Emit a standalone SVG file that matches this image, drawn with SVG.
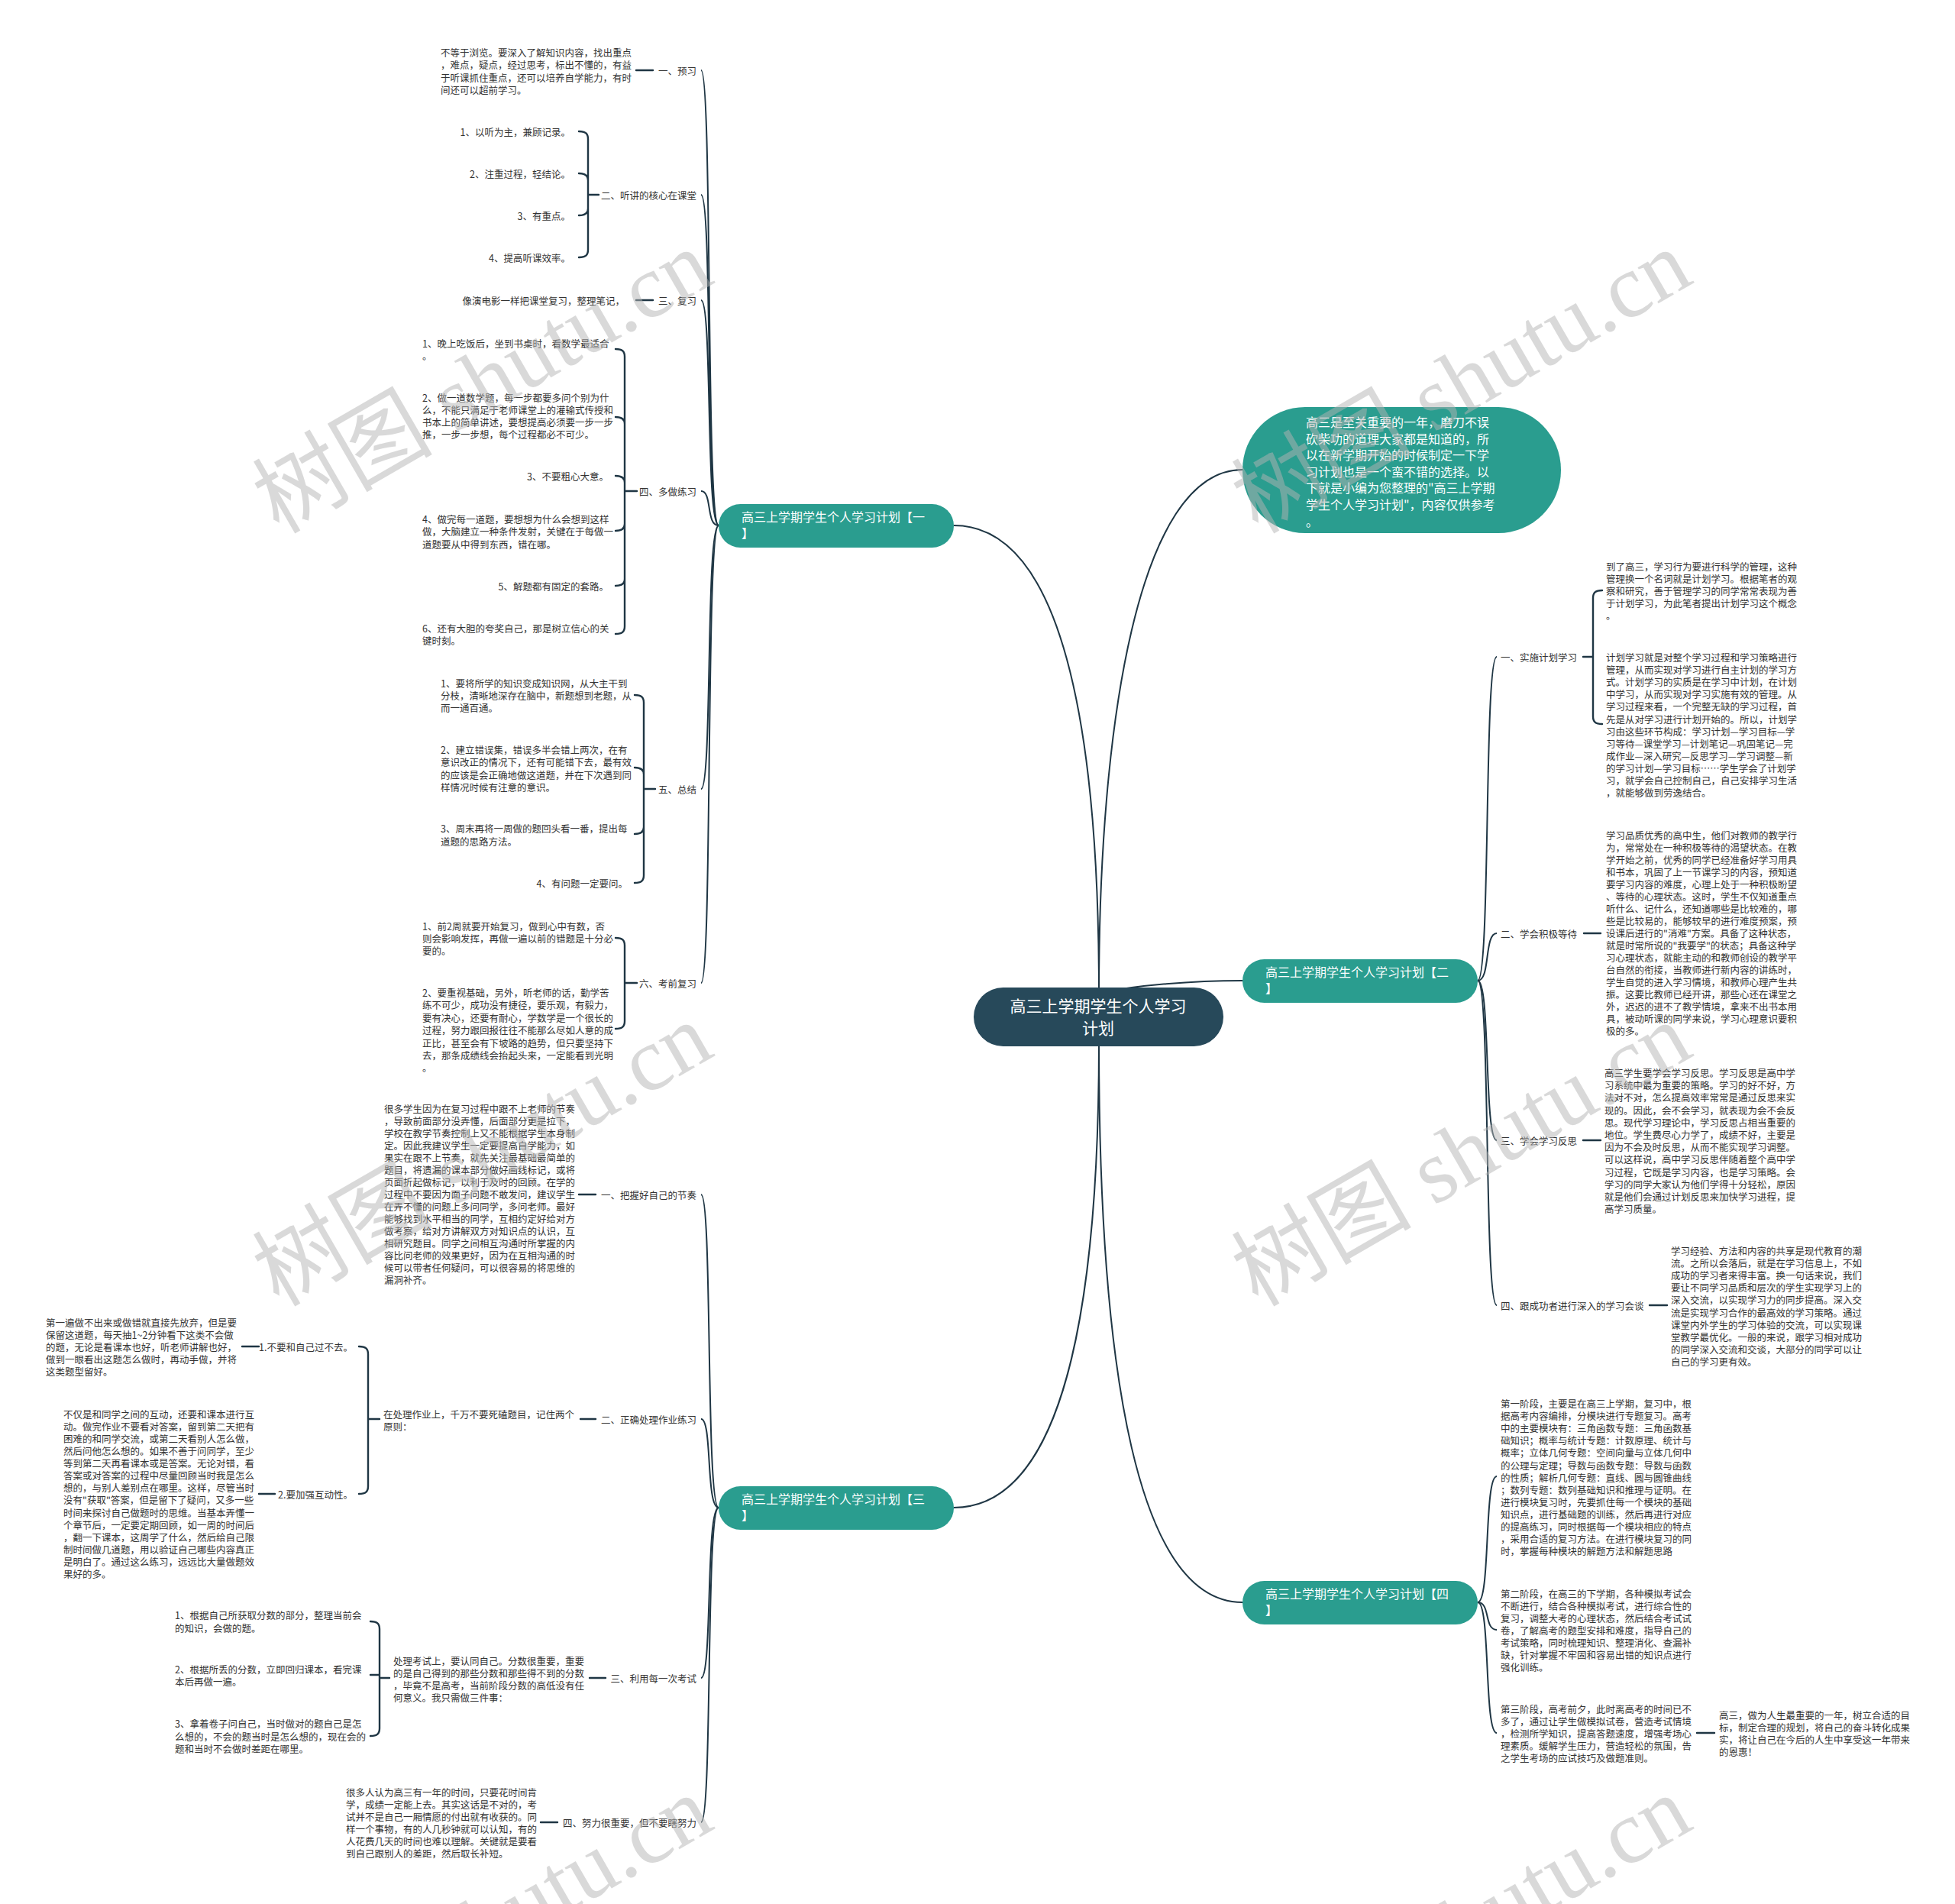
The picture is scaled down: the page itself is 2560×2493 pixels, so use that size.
<svg xmlns="http://www.w3.org/2000/svg" width="2560" height="2493" viewBox="0 0 2560 2493">
<style>
.t{font-family:"Noto Sans CJK SC","Noto Sans",sans-serif;font-size:12.5px;fill:#333;dominant-baseline:central}
.e{text-anchor:end}
.bt{font-family:"Noto Sans CJK SC","Noto Sans",sans-serif;font-size:16px;fill:#fff;dominant-baseline:central}
.ct{font-size:21px;text-anchor:middle}
.ln{fill:none;stroke:#1f3644;stroke-width:2}
.bk{fill:none;stroke:#1f3644;stroke-width:2.4;stroke-linecap:round}
.br{fill:#2a9d8f}
.wm{font-family:"Liberation Serif","Noto Sans CJK SC",serif;font-size:118px;fill:#b4b4b4;fill-opacity:0.5}
</style>
<rect width="2560" height="2493" fill="#fff"/>
<g id="connectors">
<path class="ln" d="M 1439 1300 C 1439 950 1390 688 1249 688"/>
<path class="ln" d="M 1439 1300 C 1439 950 1490 615 1627 615"/>
<path class="ln" d="M 1439 1300 C 1490 1290 1560 1284 1627 1284"/>
<path class="ln" d="M 1439 1365 C 1439 1720 1390 1974 1249 1974"/>
<path class="ln" d="M 1439 1365 C 1439 1800 1490 2098 1627 2098"/>
<path class="ln" d="M 941 688 C 924 688 933 92 918 92"/>
<path class="ln" d="M 941 688 C 924 688 933 255 918 255"/>
<path class="ln" d="M 941 688 C 924 688 933 393 918 393"/>
<path class="ln" d="M 941 688 C 924 688 933 643 918 643"/>
<path class="ln" d="M 941 688 C 924 688 933 1033 918 1033"/>
<path class="ln" d="M 941 688 C 924 688 933 1287 918 1287"/>
<path class="ln" d="M 1935 1284 C 1952 1284 1943 860 1960 860"/>
<path class="ln" d="M 1935 1284 C 1952 1284 1943 1222 1960 1222"/>
<path class="ln" d="M 1935 1284 C 1952 1284 1943 1493 1960 1493"/>
<path class="ln" d="M 1935 1284 C 1952 1284 1943 1709 1960 1709"/>
<path class="ln" d="M 941 1974 C 924 1974 933 1564 918 1564"/>
<path class="ln" d="M 941 1974 C 924 1974 933 1858 918 1858"/>
<path class="ln" d="M 941 1974 C 924 1974 933 2197 918 2197"/>
<path class="ln" d="M 941 1974 C 924 1974 933 2386 918 2386"/>
<path class="ln" d="M 1935 2098 C 1952 2098 1943 1933 1960 1933"/>
<path class="ln" d="M 1935 2098 C 1952 2098 1943 2134 1960 2134"/>
<path class="ln" d="M 1935 2098 C 1952 2098 1943 2269 1960 2269"/>
<path class="bk" d="M 758 172 C 767 172 770 175 770 182 L 770 327 C 770 334 767 337 758 337 M 758 227 C 766 227 770 230 770 236 M 758 282 C 766 282 770 279 770 273 M 770 255 L 784 255"/>
<path class="bk" d="M 806 457 C 815 457 818 460 818 467 L 818 820 C 818 827 815 830 806 830 M 806 546 C 814 546 818 549 818 555 M 806 623 C 814 623 818 626 818 632 M 806 695 C 814 695 818 692 818 686 M 806 767 C 814 767 818 764 818 758 M 818 643 L 834 643"/>
<path class="bk" d="M 831 910 C 840 910 843 913 843 920 L 843 1146 C 843 1153 840 1156 831 1156 M 831 1005 C 839 1005 843 1008 843 1014 M 831 1092 C 839 1092 843 1089 843 1083 M 843 1033 L 858 1033"/>
<path class="bk" d="M 806 1228 C 815 1228 818 1231 818 1238 L 818 1337 C 818 1344 815 1347 806 1347 M 818 1287 L 834 1287"/>
<path class="bk" d="M 470 1763 C 479 1763 482 1766 482 1773 L 482 1946 C 482 1953 479 1956 470 1956 M 482 1858 L 497 1858"/>
<path class="bk" d="M 485 2123 C 494 2123 497 2126 497 2133 L 497 2263 C 497 2270 494 2273 485 2273 M 485 2193 L 497 2193 M 497 2197 L 510 2197"/>
<path class="bk" d="M 2098 773 C 2089 773 2086 776 2086 783 L 2086 938 C 2086 945 2089 948 2098 948 M 2073 860 L 2086 860"/>
<path class="bk" d="M 833 92 L 855 92 M 833 393 L 855 393 M 758 1564 L 780 1564 M 760 1858 L 780 1858 M 772 2197 L 793 2197 M 708 2386 L 730 2386 M 317 1763 L 339 1763 M 339 1956 L 360 1956 M 2074 1222 L 2096 1222 M 2073 1493 L 2096 1493 M 2160 1709 L 2183 1709 M 2222 2269 L 2245 2269"/>
</g>
<g id="center">
<rect x="1275" y="1293" width="327" height="77" rx="38.5" fill="#27495a"/>
<text class="bt ct" x="1438" y="1316">高三上学期学生个人学习</text>
<text class="bt ct" x="1438" y="1345">计划</text>
</g>
<g id="intro">
<rect x="1627" y="533" width="417" height="165" rx="82" class="br"/>
<text class="bt" x="1710" y="552"><tspan x="1710">高三是至关重要的一年，磨刀不误</tspan><tspan x="1710" dy="21.6">砍柴功的道理大家都是知道的，所</tspan><tspan x="1710" dy="21.6">以在新学期开始的时候制定一下学</tspan><tspan x="1710" dy="21.6">习计划也是一个蛮不错的选择。以</tspan><tspan x="1710" dy="21.6">下就是小编为您整理的"高三上学期</tspan><tspan x="1710" dy="21.6">学生个人学习计划"，内容仅供参考</tspan><tspan x="1710" dy="21.6">。</tspan></text>
</g>
<g id="branch1">
<rect x="941" y="660" width="308" height="57" rx="28.5" class="br"/>
<text class="bt" x="971" y="676"><tspan x="971">高三上学期学生个人学习计划【一</tspan><tspan x="971" dy="21">】</tspan></text>
</g>
<g id="branch2">
<rect x="1627" y="1256" width="308" height="57" rx="28.5" class="br"/>
<text class="bt" x="1657" y="1272"><tspan x="1657">高三上学期学生个人学习计划【二</tspan><tspan x="1657" dy="21">】</tspan></text>
</g>
<g id="branch3">
<rect x="941" y="1946" width="308" height="57" rx="28.5" class="br"/>
<text class="bt" x="971" y="1962"><tspan x="971">高三上学期学生个人学习计划【三</tspan><tspan x="971" dy="21">】</tspan></text>
</g>
<g id="branch4">
<rect x="1627" y="2070" width="308" height="57" rx="28.5" class="br"/>
<text class="bt" x="1657" y="2086"><tspan x="1657">高三上学期学生个人学习计划【四</tspan><tspan x="1657" dy="21">】</tspan></text>
</g>
<g id="b1-labels">
<text class="t e" x="912" y="92">一、预习</text>
<text class="t e" x="912" y="255">二、听讲的核心在课堂</text>
<text class="t e" x="912" y="393">三、复习</text>
<text class="t e" x="912" y="643">四、多做练习</text>
<text class="t e" x="912" y="1033">五、总结</text>
<text class="t e" x="912" y="1287">六、考前复习</text>
</g>
<g id="b1-yuxi">
<text class="t" x="577" y="68"><tspan x="577">不等于浏览。要深入了解知识内容，找出重点</tspan><tspan x="577" dy="16.3">，难点，疑点，经过思考，标出不懂的，有益</tspan><tspan x="577" dy="16.3">于听课抓住重点，还可以培养自学能力，有时</tspan><tspan x="577" dy="16.3">间还可以超前学习。</tspan></text>
</g>
<g id="b1-tingjiang">
<text class="t e" x="747" y="172">1、以听为主，兼顾记录。</text>
<text class="t e" x="747" y="227">2、注重过程，轻结论。</text>
<text class="t e" x="747" y="282">3、有重点。</text>
<text class="t e" x="747" y="337">4、提高听课效率。</text>
</g>
<g id="b1-fuxi">
<text class="t e" x="818" y="393">像演电影一样把课堂复习，整理笔记，</text>
</g>
<g id="b1-lianxi">
<text class="t" x="553" y="449"><tspan x="553">1、晚上吃饭后，坐到书桌时，看数学最适合</tspan><tspan x="553" dy="16">。</tspan></text>
<text class="t" x="553" y="520"><tspan x="553">2、做一道数学题，每一步都要多问个别为什</tspan><tspan x="553" dy="16">么，不能只满足于老师课堂上的灌输式传授和</tspan><tspan x="553" dy="16">书本上的简单讲述，要想提高必须要一步一步</tspan><tspan x="553" dy="16">推，一步一步想，每个过程都必不可少。</tspan></text>
<text class="t e" x="797" y="623">3、不要粗心大意。</text>
<text class="t" x="553" y="679"><tspan x="553">4、做完每一道题，要想想为什么会想到这样</tspan><tspan x="553" dy="16.3">做，大脑建立一种条件发射，关键在于每做一</tspan><tspan x="553" dy="16.3">道题要从中得到东西，错在哪。</tspan></text>
<text class="t e" x="797" y="767">5、解题都有固定的套路。</text>
<text class="t" x="553" y="822"><tspan x="553">6、还有大胆的夸奖自己，那是树立信心的关</tspan><tspan x="553" dy="16">键时刻。</tspan></text>
</g>
<g id="b1-zongjie">
<text class="t" x="577" y="894"><tspan x="577">1、要将所学的知识变成知识网，从大主干到</tspan><tspan x="577" dy="16">分枝，清晰地深存在脑中，新题想到老题，从</tspan><tspan x="577" dy="16">而一通百通。</tspan></text>
<text class="t" x="577" y="981"><tspan x="577">2、建立错误集，错误多半会错上两次，在有</tspan><tspan x="577" dy="16.3">意识改正的情况下，还有可能错下去，最有效</tspan><tspan x="577" dy="16.3">的应该是会正确地做这道题，并在下次遇到同</tspan><tspan x="577" dy="16.3">样情况时候有注意的意识。</tspan></text>
<text class="t" x="577" y="1084"><tspan x="577">3、周末再将一周做的题回头看一番，提出每</tspan><tspan x="577" dy="16.5">道题的思路方法。</tspan></text>
<text class="t e" x="822" y="1156">4、有问题一定要问。</text>
</g>
<g id="b1-kaoqian">
<text class="t" x="553" y="1212"><tspan x="553">1、前2周就要开始复习，做到心中有数，否</tspan><tspan x="553" dy="16">则会影响发挥，再做一遍以前的错题是十分必</tspan><tspan x="553" dy="16">要的。</tspan></text>
<text class="t" x="553" y="1299"><tspan x="553">2、要重视基础，另外，听老师的话，勤学苦</tspan><tspan x="553" dy="16.4">练不可少，成功没有捷径，要乐观，有毅力，</tspan><tspan x="553" dy="16.4">要有决心，还要有耐心，学数学是一个很长的</tspan><tspan x="553" dy="16.4">过程，努力跟回报往往不能那么尽如人意的成</tspan><tspan x="553" dy="16.4">正比，甚至会有下坡路的趋势，但只要坚持下</tspan><tspan x="553" dy="16.4">去，那条成绩线会抬起头来，一定能看到光明</tspan><tspan x="553" dy="16.4">。</tspan></text>
</g>
<g id="b3-labels">
<text class="t e" x="912" y="1564">一、把握好自己的节奏</text>
<text class="t e" x="912" y="1858">二、正确处理作业练习</text>
<text class="t e" x="912" y="2197">三、利用每一次考试</text>
<text class="t e" x="912" y="2386">四、努力很重要，但不要瞎努力</text>
</g>
<g id="b3-jiezou">
<text class="t" x="503" y="1451"><tspan x="503">很多学生因为在复习过程中跟不上老师的节奏</tspan><tspan x="503" dy="16">，导致前面部分没弄懂，后面部分更是拉下，</tspan><tspan x="503" dy="16">学校在教学节奏控制上又不能根据学生本身制</tspan><tspan x="503" dy="16">定。因此我建议学生一定要提高自学能力，如</tspan><tspan x="503" dy="16">果实在跟不上节奏，就先关注最基础最简单的</tspan><tspan x="503" dy="16">题目，将遗漏的课本部分做好画线标记，或将</tspan><tspan x="503" dy="16">页面折起做标记，以利于及时的回顾。在学的</tspan><tspan x="503" dy="16">过程中不要因为面子问题不敢发问，建议学生</tspan><tspan x="503" dy="16">在弄不懂的问题上多问同学，多问老师。最好</tspan><tspan x="503" dy="16">能够找到水平相当的同学，互相约定好给对方</tspan><tspan x="503" dy="16">做考察，给对方讲解双方对知识点的认识，互</tspan><tspan x="503" dy="16">相研究题目。同学之间相互沟通时所掌握的内</tspan><tspan x="503" dy="16">容比问老师的效果更好，因为在互相沟通的时</tspan><tspan x="503" dy="16">候可以带者任何疑问，可以很容易的将思维的</tspan><tspan x="503" dy="16">漏洞补齐。</tspan></text>
</g>
<g id="b3-zuoye">
<text class="t" x="502" y="1851"><tspan x="502">在处理作业上，千万不要死磕题目，记住两个</tspan><tspan x="502" dy="16">原则：</tspan></text>
<text class="t e" x="462" y="1763">1.不要和自己过不去。</text>
<text class="t e" x="462" y="1956">2.要加强互动性。</text>
<text class="t" x="60" y="1731"><tspan x="60">第一遍做不出来或做错就直接先放弃，但是要</tspan><tspan x="60" dy="16">保留这道题，每天抽1~2分钟看下这类不会做</tspan><tspan x="60" dy="16">的题，无论是看课本也好，听老师讲解也好，</tspan><tspan x="60" dy="16">做到一眼看出这题怎么做时，再动手做，并将</tspan><tspan x="60" dy="16">这类题型留好。</tspan></text>
<text class="t" x="83" y="1851"><tspan x="83">不仅是和同学之间的互动，还要和课本进行互</tspan><tspan x="83" dy="16.07">动。做完作业不要看对答案，留到第二天把有</tspan><tspan x="83" dy="16.07">困难的和同学交流，或第二天看别人怎么做，</tspan><tspan x="83" dy="16.07">然后问他怎么想的。如果不善于问同学，至少</tspan><tspan x="83" dy="16.07">等到第二天再看课本或是答案。无论对错，看</tspan><tspan x="83" dy="16.07">答案或对答案的过程中尽量回顾当时我是怎么</tspan><tspan x="83" dy="16.07">想的，与别人差别点在哪里。这样，尽管当时</tspan><tspan x="83" dy="16.07">没有"获取"答案，但是留下了疑问，又多一些</tspan><tspan x="83" dy="16.07">时间来探讨自己做题时的思维。当基本弄懂一</tspan><tspan x="83" dy="16.07">个章节后，一定要定期回顾，如一周的时间后</tspan><tspan x="83" dy="16.07">，翻一下课本，这周学了什么，然后给自己限</tspan><tspan x="83" dy="16.07">制时间做几道题，用以验证自己哪些内容真正</tspan><tspan x="83" dy="16.07">是明白了。通过这么练习，远远比大量做题效</tspan><tspan x="83" dy="16.07">果好的多。</tspan></text>
</g>
<g id="b3-kaoshi">
<text class="t" x="515" y="2174"><tspan x="515">处理考试上，要认同自己。分数很重要，重要</tspan><tspan x="515" dy="16">的是自己得到的那些分数和那些得不到的分数</tspan><tspan x="515" dy="16">，毕竟不是高考，当前阶段分数的高低没有任</tspan><tspan x="515" dy="16">何意义。我只需做三件事：</tspan></text>
<text class="t" x="229" y="2114"><tspan x="229">1、根据自己所获取分数的部分，整理当前会</tspan><tspan x="229" dy="16.5">的知识，会做的题。</tspan></text>
<text class="t" x="229" y="2185"><tspan x="229">2、根据所丢的分数，立即回归课本，看完课</tspan><tspan x="229" dy="16">本后再做一遍。</tspan></text>
<text class="t" x="229" y="2256"><tspan x="229">3、拿着卷子问自己，当时做对的题自己是怎</tspan><tspan x="229" dy="16.5">么想的，不会的题当时是怎么想的，现在会的</tspan><tspan x="229" dy="16.5">题和当时不会做时差距在哪里。</tspan></text>
</g>
<g id="b3-nuli">
<text class="t" x="453" y="2346"><tspan x="453">很多人认为高三有一年的时间，只要花时间肯</tspan><tspan x="453" dy="16">学，成绩一定能上去。其实这话是不对的，考</tspan><tspan x="453" dy="16">试并不是自己一厢情愿的付出就有收获的。同</tspan><tspan x="453" dy="16">样一个事物，有的人几秒钟就可以认知，有的</tspan><tspan x="453" dy="16">人花费几天的时间也难以理解。关键就是要看</tspan><tspan x="453" dy="16">到自己跟别人的差距，然后取长补短。</tspan></text>
</g>
<g id="b2-labels">
<text class="t" x="1965" y="860">一、实施计划学习</text>
<text class="t" x="1965" y="1222">二、学会积极等待</text>
<text class="t" x="1965" y="1493">三、学会学习反思</text>
<text class="t" x="1965" y="1709">四、跟成功者进行深入的学习会谈</text>
</g>
<g id="b2-jihua">
<text class="t" x="2103" y="741"><tspan x="2103">到了高三，学习行为要进行科学的管理，这种</tspan><tspan x="2103" dy="16">管理换一个名词就是计划学习。根据笔者的观</tspan><tspan x="2103" dy="16">察和研究，善于管理学习的同学常常表现为善</tspan><tspan x="2103" dy="16">于计划学习，为此笔者提出计划学习这个概念</tspan><tspan x="2103" dy="16">。</tspan></text>
<text class="t" x="2103" y="860"><tspan x="2103">计划学习就是对整个学习过程和学习策略进行</tspan><tspan x="2103" dy="16.1">管理，从而实现对学习进行自主计划的学习方</tspan><tspan x="2103" dy="16.1">式。计划学习的实质是在学习中计划，在计划</tspan><tspan x="2103" dy="16.1">中学习，从而实现对学习实施有效的管理。从</tspan><tspan x="2103" dy="16.1">学习过程来看，一个完整无缺的学习过程，首</tspan><tspan x="2103" dy="16.1">先是从对学习进行计划开始的。所以，计划学</tspan><tspan x="2103" dy="16.1">习由这些环节构成：学习计划—学习目标—学</tspan><tspan x="2103" dy="16.1">习等待—课堂学习—计划笔记—巩固笔记—完</tspan><tspan x="2103" dy="16.1">成作业—深入研究—反思学习—学习调整—新</tspan><tspan x="2103" dy="16.1">的学习计划—学习目标……学生学会了计划学</tspan><tspan x="2103" dy="16.1">习，就学会自己控制自己，自己安排学习生活</tspan><tspan x="2103" dy="16.1">，就能够做到劳逸结合。</tspan></text>
</g>
<g id="b2-dengdai">
<text class="t" x="2103" y="1093"><tspan x="2103">学习品质优秀的高中生，他们对教师的教学行</tspan><tspan x="2103" dy="16">为，常常处在一种积极等待的渴望状态。在教</tspan><tspan x="2103" dy="16">学开始之前，优秀的同学已经准备好学习用具</tspan><tspan x="2103" dy="16">和书本，巩固了上一节课学习的内容，预知道</tspan><tspan x="2103" dy="16">要学习内容的难度，心理上处于一种积极盼望</tspan><tspan x="2103" dy="16">、等待的心理状态。这时，学生不仅知道重点</tspan><tspan x="2103" dy="16">听什么、记什么，还知道哪些是比较难的，哪</tspan><tspan x="2103" dy="16">些是比较易的，能够较早的进行难度预案，预</tspan><tspan x="2103" dy="16">设课后进行的"消难"方案。具备了这种状态，</tspan><tspan x="2103" dy="16">就是时常所说的"我要学"的状态；具备这种学</tspan><tspan x="2103" dy="16">习心理状态，就能主动的和教师创设的教学平</tspan><tspan x="2103" dy="16">台自然的衔接，当教师进行新内容的讲练时，</tspan><tspan x="2103" dy="16">学生自觉的进入学习情境，和教师心理产生共</tspan><tspan x="2103" dy="16">振。这要比教师已经开讲，那些心还在课堂之</tspan><tspan x="2103" dy="16">外，迟迟的进不了教学情境，拿来不出书本用</tspan><tspan x="2103" dy="16">具，被动听课的同学来说，学习心理意识要积</tspan><tspan x="2103" dy="16">极的多。</tspan></text>
</g>
<g id="b2-fansi">
<text class="t" x="2101" y="1404"><tspan x="2101">高三学生要学会学习反思。学习反思是高中学</tspan><tspan x="2101" dy="16.2">习系统中最为重要的策略。学习的好不好，方</tspan><tspan x="2101" dy="16.2">法对不对，怎么提高效率常常是通过反思来实</tspan><tspan x="2101" dy="16.2">现的。因此，会不会学习，就表现为会不会反</tspan><tspan x="2101" dy="16.2">思。现代学习理论中，学习反思占相当重要的</tspan><tspan x="2101" dy="16.2">地位。学生费尽心力学了，成绩不好，主要是</tspan><tspan x="2101" dy="16.2">因为不会及时反思，从而不能实现学习调整。</tspan><tspan x="2101" dy="16.2">可以这样说，高中学习反思伴随着整个高中学</tspan><tspan x="2101" dy="16.2">习过程，它既是学习内容，也是学习策略。会</tspan><tspan x="2101" dy="16.2">学习的同学大家认为他们学得十分轻松，原因</tspan><tspan x="2101" dy="16.2">就是他们会通过计划反思来加快学习进程，提</tspan><tspan x="2101" dy="16.2">高学习质量。</tspan></text>
</g>
<g id="b2-huitan">
<text class="t" x="2188" y="1637"><tspan x="2188">学习经验、方法和内容的共享是现代教育的潮</tspan><tspan x="2188" dy="16.1">流。之所以会落后，就是在学习信息上，不如</tspan><tspan x="2188" dy="16.1">成功的学习者来得丰富。换一句话来说，我们</tspan><tspan x="2188" dy="16.1">要让不同学习品质和层次的学生实现学习上的</tspan><tspan x="2188" dy="16.1">深入交流，以实现学习力的同步提高。深入交</tspan><tspan x="2188" dy="16.1">流是实现学习合作的最高效的学习策略。通过</tspan><tspan x="2188" dy="16.1">课堂内外学生的学习体验的交流，可以实现课</tspan><tspan x="2188" dy="16.1">堂教学最优化。一般的来说，跟学习相对成功</tspan><tspan x="2188" dy="16.1">的同学深入交流和交谈，大部分的同学可以让</tspan><tspan x="2188" dy="16.1">自己的学习更有效。</tspan></text>
</g>
<g id="b4-stages">
<text class="t" x="1965" y="1837"><tspan x="1965">第一阶段，主要是在高三上学期，复习中，根</tspan><tspan x="1965" dy="16.1">据高考内容编排，分模块进行专题复习。高考</tspan><tspan x="1965" dy="16.1">中的主要模块有：三角函数专题：三角函数基</tspan><tspan x="1965" dy="16.1">础知识；概率与统计专题：计数原理、统计与</tspan><tspan x="1965" dy="16.1">概率；立体几何专题：空间向量与立体几何中</tspan><tspan x="1965" dy="16.1">的公理与定理；导数与函数专题：导数与函数</tspan><tspan x="1965" dy="16.1">的性质；解析几何专题：直线、圆与圆锥曲线</tspan><tspan x="1965" dy="16.1">；数列专题：数列基础知识和推理与证明。在</tspan><tspan x="1965" dy="16.1">进行模块复习时，先要抓住每一个模块的基础</tspan><tspan x="1965" dy="16.1">知识点，进行基础题的训练，然后再进行对应</tspan><tspan x="1965" dy="16.1">的提高练习，同时根据每一个模块相应的特点</tspan><tspan x="1965" dy="16.1">，采用合适的复习方法。在进行模块复习的同</tspan><tspan x="1965" dy="16.1">时，掌握每种模块的解题方法和解题思路</tspan></text>
<text class="t" x="1965" y="2086"><tspan x="1965">第二阶段，在高三的下学期，各种模拟考试会</tspan><tspan x="1965" dy="16">不断进行，结合各种模拟考试，进行综合性的</tspan><tspan x="1965" dy="16">复习，调整大考的心理状态，然后结合考试试</tspan><tspan x="1965" dy="16">卷，了解高考的题型安排和难度，指导自己的</tspan><tspan x="1965" dy="16">考试策略，同时梳理知识、整理消化、查漏补</tspan><tspan x="1965" dy="16">缺，针对掌握不牢固和容易出错的知识点进行</tspan><tspan x="1965" dy="16">强化训练。</tspan></text>
<text class="t" x="1965" y="2237"><tspan x="1965">第三阶段，高考前夕，此时离高考的时间已不</tspan><tspan x="1965" dy="16">多了，通过让学生做模拟试卷，营造考试情境</tspan><tspan x="1965" dy="16">，检测所学知识，提高答题速度，增强考场心</tspan><tspan x="1965" dy="16">理素质。缓解学生压力，营造轻松的氛围，告</tspan><tspan x="1965" dy="16">之学生考场的应试技巧及做题准则。</tspan></text>
<text class="t" x="2251" y="2245"><tspan x="2251">高三，做为人生最重要的一年，树立合适的目</tspan><tspan x="2251" dy="16">标，制定合理的规划，将自己的奋斗转化成果</tspan><tspan x="2251" dy="16">实，将让自己在今后的人生中享受这一年带来</tspan><tspan x="2251" dy="16">的恩惠！</tspan></text>
</g>
<g id="watermark" class="wm">
<text transform="translate(365 700) rotate(-30)">树图 shutu.cn</text>
<text transform="translate(1647 700) rotate(-30)">树图 shutu.cn</text>
<text transform="translate(365 1712) rotate(-30)">树图 shutu.cn</text>
<text transform="translate(1647 1712) rotate(-30)">树图 shutu.cn</text>
<text transform="translate(365 2724) rotate(-30)">树图 shutu.cn</text>
<text transform="translate(1647 2724) rotate(-30)">树图 shutu.cn</text>
</g>
</svg>
